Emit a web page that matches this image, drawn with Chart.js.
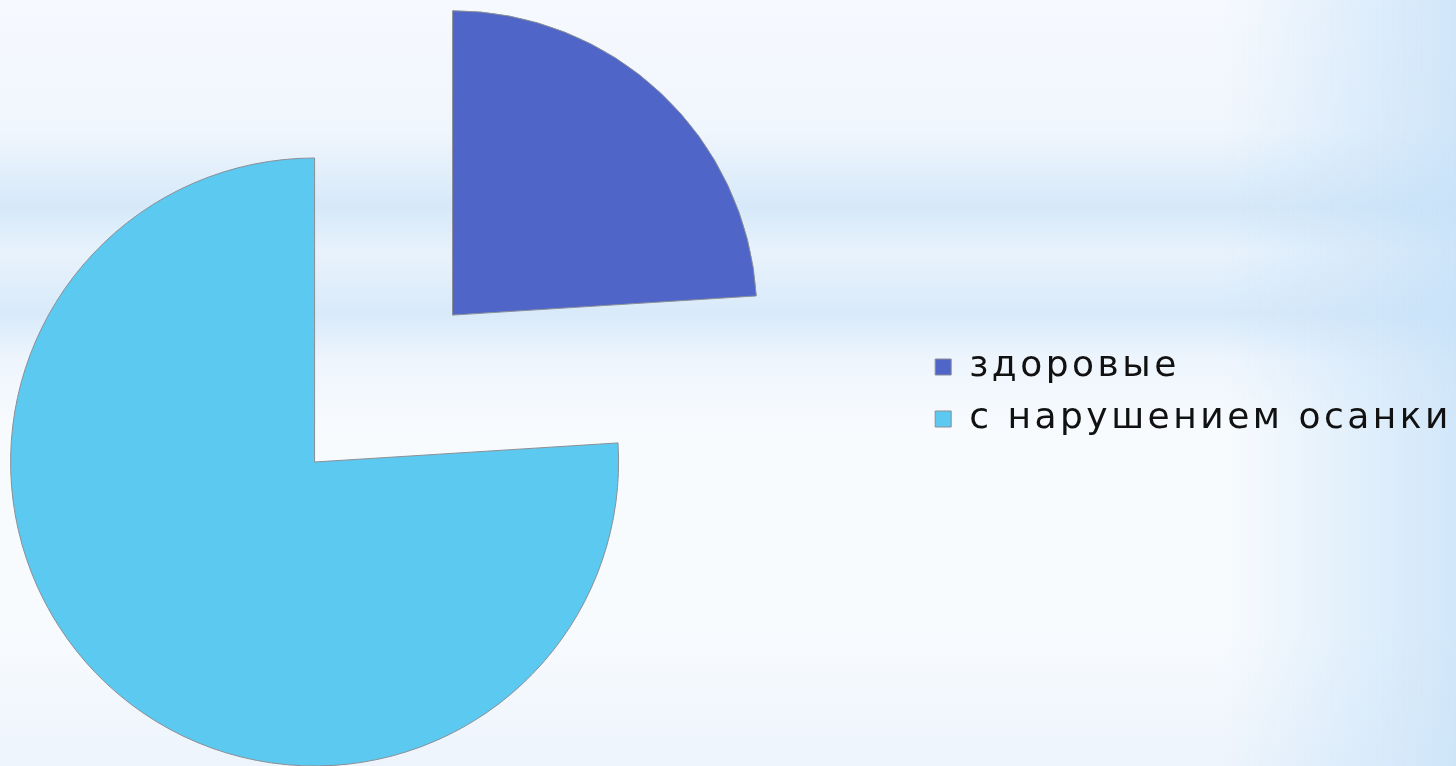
<!DOCTYPE html>
<html lang="ru">
<head>
<meta charset="utf-8">
<title>Осанка</title>
<script src="https://cdn.jsdelivr.net/npm/chart.js@4.4.1/dist/chart.umd.min.js"></script>
<style>
    html, body {
        margin: 0;
        padding: 0;
        width: 1456px;
        height: 766px;
        overflow: hidden;
    }
    body {
        background:
            linear-gradient(to right, rgba(196, 224, 248, 0) 84%, rgba(196, 224, 248, 0.75) 100%),
            linear-gradient(to bottom, #f6f9fe 0%, #f0f6fd 17%, #d6e9f9 27%, #e8f2fc 33%, #d8eafa 41%, #eef5fd 47%, #f8fbfe 56%, #f8fbfe 82%, #edf4fc 100%);
    }
    #wrap {
        position: absolute;
        left: -290px;
        top: 0;
        width: 1752px;
        height: 766px;
    }
</style>
</head>
<body>
<div id="wrap"><canvas id="grafico"></canvas></div>
<script>
const categorias = ["здоровые", "с нарушением осанки"];
const valores = [24, 76];

// the slide text is wider than any installed font, so space the letters a bit
const espaciado = {
    id: "espaciado",
    beforeLayout(chart) { chart.ctx.letterSpacing = "3.5px"; },
    beforeDraw(chart) { chart.ctx.letterSpacing = "3.5px"; }
};

const ctx = document.getElementById("grafico").getContext("2d");

new Chart(ctx, {
    type: "pie",
    data: {
        labels: categorias,
        datasets: [{
            data: valores,
            backgroundColor: ["#4f65c7", "#5cc9f0"],
            borderColor: "#8a8f96",
            borderWidth: 1,
            // only the small slice is pulled out
            offset: [806, 0],
            hoverOffset: 0,
            clip: false
        }]
    },
    options: {
        responsive: true,
        maintainAspectRatio: false,
        animation: false,
        radius: 304,
        cutout: "0%",
        layout: {
            padding: { top: 20, bottom: 0, left: 0, right: 0 }
        },
        plugins: {
            tooltip: { enabled: false },
            // empty title only pushes the pie down
            title: {
                display: true,
                text: " ",
                font: { size: 10 },
                padding: { top: 0, bottom: 126 }
            },
            legend: {
                position: "right",
                labels: {
                    boxWidth: 16,
                    boxHeight: 16,
                    padding: 16,
                    color: "#111",
                    font: { family: "'DejaVu Sans', Verdana, sans-serif", size: 36 }
                }
            }
        }
    },
    plugins: [espaciado]
});
</script>
</body>
</html>
